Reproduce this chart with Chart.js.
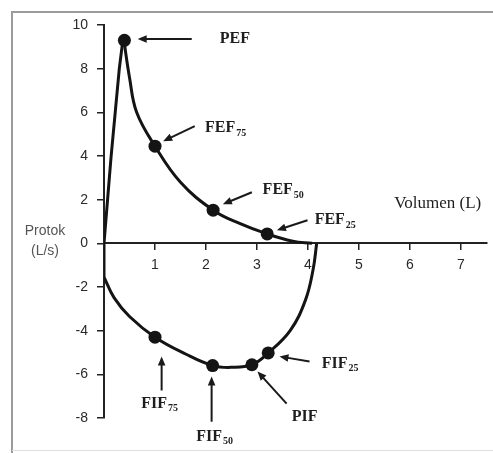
<!DOCTYPE html>
<html><head><meta charset="utf-8">
<script src="https://cdn.jsdelivr.net/npm/chart.js@4"></script>
<style>html,body{margin:0;padding:0;background:#fff}canvas{display:block}</style>
</head><body>
<canvas id="c" width="493" height="453"></canvas>
<script>
// --- data ---
const volumenUzlaz = [0, 0, 0.07, 0.14, 0.22, 0.30, 0.37];
const protokUzlaz  = [-1.55, 0, 2, 4, 6, 8, 9.3];
const volumenIzdisaj = [0.39, 0.5, 0.64, 1.0, 1.5, 2.14, 2.67, 3.2, 3.7, 4.08];
const protokIzdisaj  = [9.3, 7.6, 6.0, 4.45, 2.8, 1.52, 0.9, 0.43, 0.1, 0];
const volumenUdisaj = [0, 0.2, 0.5, 1.0, 1.6, 2.13, 2.5, 2.9, 3.22, 3.65, 3.95, 4.1, 4.17];
const protokUdisaj  = [-1.55, -2.5, -3.35, -4.3, -5.07, -5.6, -5.68, -5.56, -5.02, -4.0, -2.6, -1.2, 0];
const tockeOznake  = ['PEF', 'FEF75', 'FEF50', 'FEF25', 'FIF75', 'FIF50', 'PIF', 'FIF25'];
const tockeVolumen = [0.4, 1.0, 2.14, 3.2, 1.0, 2.13, 2.9, 3.22];
const tockeProtok  = [9.3, 4.45, 1.52, 0.43, -4.3, -5.6, -5.56, -5.02];
const xTicks = [1, 2, 3, 4, 5, 6, 7];
const yTicks = [-8, -6, -4, -2, 0, 2, 4, 6, 8, 10];
const xNaslov = 'Volumen (L)';
const yNaslov = ['Protok', '(L/s)'];

// annotation geometry (data coordinates)
const strelice = {
  PEF:   {tail: [1.72, 9.36],  head: [0.66, 9.36],  text: [2.27, 9.36],  align: 'left'},
  FEF75: {tail: [1.78, 5.37],  head: [1.16, 4.68],  text: [1.98, 5.28],  align: 'left'},
  FEF50: {tail: [2.9, 2.34],   head: [2.33, 1.79],  text: [3.11, 2.43],  align: 'left'},
  FEF25: {tail: [3.99, 1.06],  head: [3.39, 0.6],   text: [4.13, 1.06],  align: 'left'},
  FIF75: {tail: [1.13, -6.74], head: [1.13, -5.18], text: [1.09, -7.34], align: 'center'},
  FIF50: {tail: [2.11, -8.17], head: [2.11, -6.1],  text: [2.17, -8.85], align: 'center'},
  PIF:   {tail: [3.58, -7.34], head: [3.01, -5.87], text: [3.68, -7.94], align: 'left'},
  FIF25: {tail: [4.03, -5.41], head: [3.44, -5.18], text: [4.27, -5.5],  align: 'left'}
};

const crna = '#141414';
const pts = (xs, ys) => xs.map((x, i) => ({x, y: ys[i]}));
const lineDs = (xs, ys, t) => ({
  data: pts(xs, ys), showLine: true, borderColor: crna, borderWidth: 3,
  pointRadius: 0, tension: t, fill: false
});

const serif = '"Liberation Serif", "Times New Roman", serif';

const anotacije = {
  id: 'anotacije',
  beforeDraw(chart) {
    const ctx = chart.ctx;
    ctx.save();
    ctx.strokeStyle = '#9c9c9c';
    ctx.lineWidth = 2;
    ctx.beginPath();
    ctx.moveTo(12, 453); ctx.lineTo(12, 12); ctx.lineTo(493, 12);
    ctx.stroke();
    ctx.strokeStyle = '#dedede';
    ctx.lineWidth = 1;
    ctx.beginPath();
    ctx.moveTo(12, 450.5); ctx.lineTo(493, 450.5);
    ctx.stroke();
    ctx.restore();
  },
  afterDatasetsDraw(chart) {
    const ctx = chart.ctx, xs = chart.scales.x, ys = chart.scales.y;
    const px = v => xs.getPixelForValue(v), py = v => ys.getPixelForValue(v);
    const bigF = 'bold 16px ' + serif, subF = 'bold 10px ' + serif;
    ctx.save();
    tockeOznake.forEach(name => {
      const a = strelice[name];
      if (!a) return;
      const x1 = px(a.tail[0]), y1 = py(a.tail[1]), x2 = px(a.head[0]), y2 = py(a.head[1]);
      const ang = Math.atan2(y2 - y1, x2 - x1);
      const L = 9, W = 3.8;
      ctx.strokeStyle = '#1a1a1a'; ctx.fillStyle = '#1a1a1a'; ctx.lineWidth = 2;
      ctx.beginPath();
      ctx.moveTo(x1, y1);
      ctx.lineTo(x2 - Math.cos(ang) * L * 0.8, y2 - Math.sin(ang) * L * 0.8);
      ctx.stroke();
      ctx.beginPath();
      ctx.moveTo(x2, y2);
      ctx.lineTo(x2 - Math.cos(ang) * L + Math.sin(ang) * W, y2 - Math.sin(ang) * L - Math.cos(ang) * W);
      ctx.lineTo(x2 - Math.cos(ang) * L - Math.sin(ang) * W, y2 - Math.sin(ang) * L + Math.cos(ang) * W);
      ctx.closePath();
      ctx.fill();
      // label with subscript
      const m = name.match(/^([A-Z]+)(\d*)$/);
      const base = m[1], sub = m[2];
      ctx.font = bigF;
      const wb = ctx.measureText(base).width;
      ctx.font = subF;
      const ws = sub ? ctx.measureText(sub).width + 1 : 0;
      let tx = px(a.text[0]);
      if (a.align === 'center') tx -= (wb + ws) / 2;
      const ty = py(a.text[1]);
      ctx.fillStyle = '#1e1e1e';
      ctx.textBaseline = 'middle';
      ctx.textAlign = 'left';
      ctx.font = bigF;
      ctx.fillText(base, tx, ty);
      if (sub) {
        ctx.font = subF;
        ctx.fillText(sub, tx + wb + 1, ty + 5);
      }
    });
    // axis titles
    ctx.fillStyle = '#1e1e1e';
    ctx.font = '17px ' + serif;
    ctx.textBaseline = 'middle';
    ctx.textAlign = 'left';
    ctx.fillText(xNaslov, px(5.69), py(1.83));
    ctx.fillStyle = '#555';
    ctx.font = '14px "Liberation Sans", Arial, sans-serif';
    ctx.textAlign = 'center';
    ctx.fillText(yNaslov[0], chart.chartArea.left - 59, py(0) - 12);
    ctx.fillText(yNaslov[1], chart.chartArea.left - 59, py(0) + 8);
    ctx.restore();
  }
};

const tickFont = {family: '"Liberation Sans", Arial, sans-serif', size: 14};

new Chart(document.getElementById('c'), {
  type: 'scatter',
  data: {
    datasets: [
      lineDs(volumenUzlaz, protokUzlaz, 0),
      lineDs(volumenIzdisaj, protokIzdisaj, 0.4),
      lineDs(volumenUdisaj, protokUdisaj, 0.4),
      {
        data: pts(tockeVolumen, tockeProtok), showLine: false,
        pointRadius: 6.5, pointHoverRadius: 6.5, backgroundColor: crna, borderColor: crna, borderWidth: 0
      }
    ]
  },
  options: {
    responsive: false,
    animation: false,
    devicePixelRatio: 1,
    layout: {padding: {top: 25, right: 6, bottom: 35, left: 0}},
    plugins: {legend: {display: false}, tooltip: {enabled: false}},
    scales: {
      x: {
        type: 'linear', min: 0, max: 7.5, position: {y: 0},
        afterBuildTicks: s => { s.ticks = xTicks.map(v => ({value: v})); },
        grid: {drawOnChartArea: false, drawTicks: true, tickLength: 6, color: '#222', lineWidth: 1.5},
        border: {display: true, color: '#222', width: 2},
        ticks: {font: tickFont, color: '#2a2a2a', padding: 7, maxRotation: 0}
      },
      y: {
        type: 'linear', min: -8, max: 10,
        afterBuildTicks: s => { s.ticks = yTicks.map(v => ({value: v})); },
        afterFit: s => { s.width = 104; },
        grid: {drawOnChartArea: false, drawTicks: true, tickLength: 7, color: '#222', lineWidth: 1.5},
        border: {display: true, color: '#222', width: 2},
        ticks: {font: tickFont, color: '#2a2a2a', padding: 9}
      }
    }
  },
  plugins: [anotacije]
});
</script>
</body></html>
